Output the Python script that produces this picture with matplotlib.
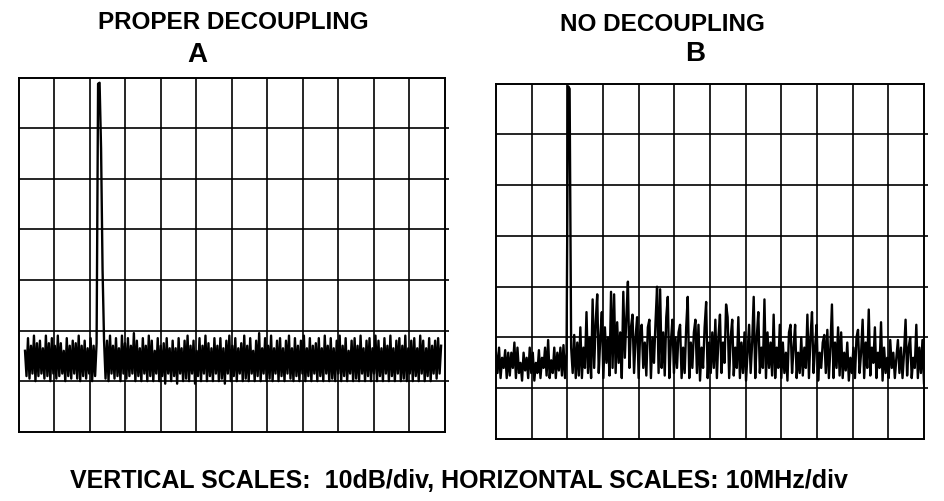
import numpy as np
import matplotlib
matplotlib.use("Agg")
import matplotlib.pyplot as plt

plt.rcParams['font.family'] = ['Liberation Sans', 'DejaVu Sans']

# ==============================
# DATA (read off the screen shots)
# ==============================

# sweep span of each trace, MHz (10 MHz/div, 12 div)
span_a = (1.7, 118.9)
span_b = (0.0, 120.0)

# level in dB (10 dB/div, top line = 0 dB)
level_a = [
    -54, -59, -51.5, -59.5, -53, -58.5, -51, -60, -52.5, -59, -52, -58.5, -53.5, -59.5, -51, -59, -52.5, -60, -51.5, -58.5,
    -53, -59.5, -51, -59, -52.5, -58.5, -54, -60, -51.5, -59, -53, -59.5, -52, -58.5, -52.5, -59.5, -51, -60, -53, -59,
    -52, -59.5, -53.5, -58.5, -51.5, -60, -53, -59, -52.5, -1.2, -1, -14, -38, -52, -59.5, -52, -60, -51, -58.5, -53,
    -59.5, -51.5, -59, -53.5, -60, -51, -58.5, -52.5, -59.5, -51.5, -59, -53, -58.5, -50.5, -60, -52, -59, -53.5, -60, -51.5,
    -58.5, -53, -60, -51, -59, -52, -60, -54, -58.5, -51.5, -60, -53, -59, -52.5, -60.5, -51.5, -58.5, -53.5, -60, -52,
    -59, -53.5, -60.5, -51.5, -58.5, -53.5, -60, -52, -59.5, -51, -60, -53, -58.5, -52, -60.5, -54, -59, -51.5, -60, -53,
    -58.5, -51, -60, -52.5, -59, -53.5, -60, -51.5, -58.5, -53, -60, -51.5, -59.5, -53.5, -60.5, -52, -58.5, -51, -60, -53,
    -59, -51.5, -60, -53.5, -58.5, -52.5, -60, -51, -59.5, -53, -60, -51.5, -58.5, -54, -60, -52, -59, -50.5, -60, -53.5,
    -58.5, -51.5, -60, -53, -59.5, -51, -60, -53.5, -58.5, -52, -60, -51.5, -59, -53.5, -60, -52, -58.5, -51, -59.5, -53.5,
    -60, -51.5, -59, -53, -60, -52, -58.5, -51, -60, -53.5, -59, -51.5, -60, -53, -58.5, -52.5, -60, -51.5, -59, -53.5,
    -60, -51, -58.5, -53, -60, -51.5, -59.5, -53.5, -60, -52, -58.5, -51, -60, -53, -59, -51.5, -60, -54, -58.5, -52,
    -60, -51.5, -59.5, -53, -60, -51, -58.5, -53.5, -60, -52, -59, -51.5, -60, -53.5, -58.5, -51, -60, -52, -59, -53.5,
    -60, -51.5, -58.5, -53, -60, -51, -59, -53.5, -60, -52, -58.5, -51.5, -60, -53, -59.5, -51, -60, -53.5, -58.5, -52,
    -60, -51.5, -59, -53.5, -60, -51, -58.5, -52, -60, -53.5, -59, -51.5, -60, -53, -58.5, -52, -59.5, -51.5, -58.5, -53,
]

level_b = [
    -53, -57, -52, -58, -54, -56, -52.5, -58, -53, -57.5, -53, -56, -51, -58, -52, -57, -55, -58.5, -53, -56.5,
    -54, -58, -52, -57, -53, -58.5, -55, -57, -52.5, -58, -54, -56, -52, -57.5, -50.5, -58, -54.5, -57, -52, -58,
    -53, -56.5, -52, -57.5, -51.5, -58, -53, -0.5, -1, -52, -57, -49.5, -58, -51, -57.5, -48, -58, -52, -56, -45,
    -57, -50, -58, -42.5, -56, -47, -41.5, -57, -50, -45, -58, -48, -55, -50, -57.5, -41, -56, -41.5, -57, -47,
    -55, -49, -58, -41, -54, -46, -39, -56, -48, -45.5, -57, -50, -46, -58, -49, -47.5, -56, -51, -57.5, -48,
    -46.5, -58, -50, -55, -47, -40, -57, -40.5, -56, -49, -57.5, -46, -42, -58, -51, -46.5, -57, -50, -56, -49,
    -47.5, -58, -52, -57, -48, -42, -58, -51, -56, -49, -46.5, -57, -47.5, -58.5, -52, -56, -48, -43, -58, -51,
    -57, -49, -56, -46.5, -58, -50, -45.5, -57, -51, -55, -43.5, -46, -58, -50, -46.5, -57.5, -52, -56, -46, -58,
    -51, -57, -49, -58.5, -53, -47.5, -57, -51, -42, -58, -50, -45, -57, -52, -56, -42.5, -58, -49, -56, -51,
    -57.5, -45.5, -58, -52, -56, -47.5, -58, -51, -57, -53, -58.5, -49, -47.5, -57, -52, -47.5, -58, -53, -57, -50,
    -57.5, -52, -56, -45.5, -58, -50, -45, -57, -52, -47.5, -58.5, -53, -56, -51, -49.5, -57, -48.5, -58, -52, -43.5,
    -58, -51, -56, -48, -57.5, -49, -58, -53, -56.5, -51, -58.5, -54, -57, -52, -58, -50, -48.5, -57, -53, -46.5,
    -58, -51, -56, -44.5, -57.5, -52, -55, -48, -58, -53, -56, -47, -58.5, -52, -57, -54, -58, -50.5, -56, -53,
    -58, -54, -50.5, -57, -52, -58, -53, -46.5, -57.5, -52, -50, -58, -54, -56, -47.5, -58, -52, -57, -50.5, -59,
]

titles = ["PROPER DECOUPLING", "NO DECOUPLING"]
letters = ["A", "B"]
footer = "VERTICAL SCALES:  10dB/div, HORIZONTAL SCALES: 10MHz/div"

# ==============================
# PLOTTING
# ==============================

fig = plt.figure(figsize=(9.44, 5.01), dpi=100)
fig.patch.set_facecolor("white")

ax_a = fig.add_axes([0.0201, 0.1383, 0.4513, 0.7066])
ax_b = fig.add_axes([0.5254, 0.1238, 0.4534, 0.7091])

traces = [(ax_a, span_a, level_a, 1.7), (ax_b, span_b, level_b, 1.7)]

for ax, span, level, lw in traces:
    freq = np.linspace(span[0], span[1], len(level))
    ax.plot(freq, level, color="black", lw=lw)

    ax.set_xlim(0, 120)
    ax.set_ylim(-70, 0)
    for xv in range(10, 120, 10):
        ax.axvline(xv, color="black", lw=1.2)
    # horizontal graticule runs a little past the right frame
    ax.hlines(range(-60, 0, 10), 0, 121, color="black", lw=1.2, clip_on=False)

    ax.set_xticks([])
    ax.set_yticks([])
    for s in ax.spines.values():
        s.set_color("black")
        s.set_linewidth(1.4)

# ---- headings ----
fig.text(0.2468, 0.956, titles[0], ha="center", va="center",
         fontsize=17.5, fontweight="bold")
fig.text(0.2087, 0.890, letters[0], ha="center", va="center",
         fontsize=20, fontweight="bold")
fig.text(0.7013, 0.952, titles[1], ha="center", va="center",
         fontsize=17.5, fontweight="bold")
fig.text(0.7362, 0.892, letters[1], ha="center", va="center",
         fontsize=20, fontweight="bold")

fig.text(0.4857, 0.040, footer, ha="center", va="center",
         fontsize=18, fontweight="bold")

fig.savefig("out.png", dpi=100)
